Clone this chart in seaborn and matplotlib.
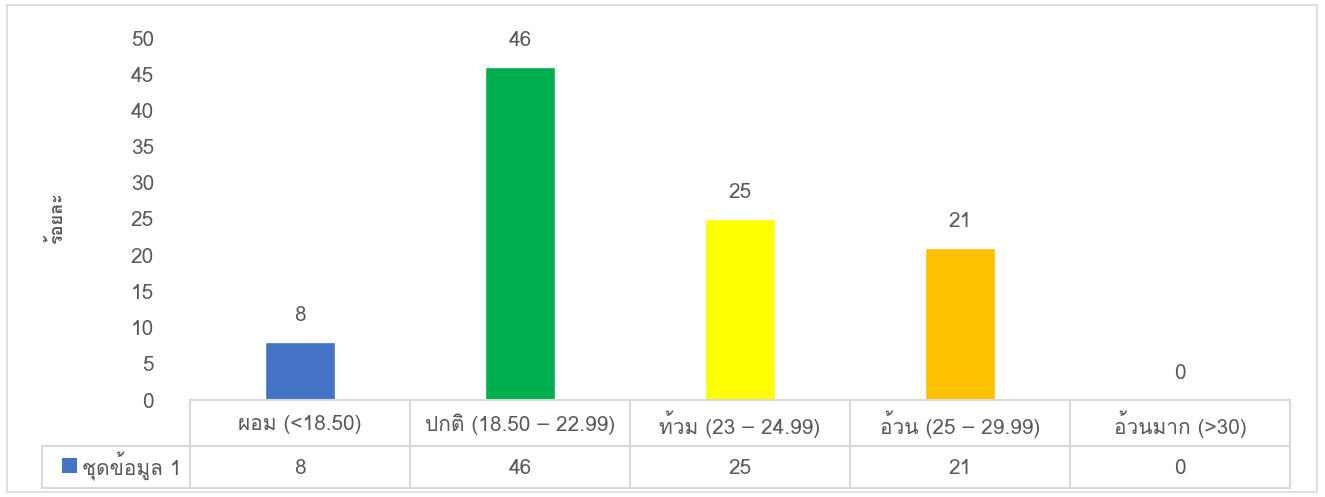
import matplotlib
matplotlib.use("Agg")
import matplotlib.pyplot as plt
from matplotlib.lines import Line2D
from matplotlib.patches import Rectangle
import seaborn as sns
import pandas as pd

categories = ["ผอม (<18.50)", "ปกติ (18.50 – 22.99)", "ท้วม (23 – 24.99)",
              "อ้วน (25 – 29.99)", "อ้วนมาก (>30)"]
values = [8, 46, 25, 21, 0]
series_name = "ชุดข้อมูล 1"
y_label = "ร้อยละ"
y_ticks = [0, 5, 10, 15, 20, 25, 30, 35, 40, 45, 50]
colors = ["#4472C4", "#00B050", "#FFFF00", "#FFC000", "#7F7F7F"]

sns.set_theme(style="white")
plt.rcParams["font.family"] = ["Loma", "DejaVu Sans"]

W, H = 1325, 497
fig = plt.figure(figsize=(W / 100, H / 100), dpi=100)
TXT = "#595959"

def fx(px):
    return px / W

def fy(py):
    return 1 - py / H

ax = fig.add_axes([fx(190), fy(400), fx(1290) - fx(190), fy(38) - fy(400)])
df = pd.DataFrame({"cat": categories, "val": values})
sns.barplot(data=df, x="cat", y="val", hue="cat", palette=colors[:len(categories)],
            width=0.32, legend=False, ax=ax, saturation=1)
ax.set_ylim(0, 50)
ax.set_xlim(-0.5, len(categories) - 0.5)
ax.set_yticks(y_ticks)
ax.tick_params(axis="y", labelsize=15, colors=TXT, length=0, pad=26)
ax.set_xticks([])
ax.set_xlabel("")
ax.set_ylabel("")
for s in ax.spines.values():
    s.set_visible(False)
for c in ax.containers:
    ax.bar_label(c, fontsize=15, color=TXT, padding=12)

fig.text(fx(57), fy(218), y_label, rotation=90, ha="center", va="center",
         fontsize=13, color=TXT, fontweight="bold")

# outer border
fig.add_artist(Rectangle((fx(7), fy(492)), fx(1317) - fx(7), fy(5) - fy(492),
                         transform=fig.transFigure, fill=False, edgecolor="#D9D9D9", lw=1.2))

# data table
LC = "#D9D9D9"
def hline(y, x0, x1):
    fig.add_artist(Line2D([fx(x0), fx(x1)], [fy(y), fy(y)], transform=fig.transFigure,
                          color=LC, lw=1.5))
def vline(x, y0, y1):
    fig.add_artist(Line2D([fx(x), fx(x)], [fy(y0), fy(y1)], transform=fig.transFigure,
                          color=LC, lw=1.5))

hline(400, 190, 1290)
hline(446, 42, 1290)
hline(488, 42, 1290)
vline(42, 446, 488)
for i in range(len(categories) + 1):
    vline(190 + 220 * i, 400, 488)
for i, (c, v) in enumerate(zip(categories, values)):
    xc = 300 + 220 * i
    fig.text(fx(xc), fy(424), c, ha="center", va="center", fontsize=15, color=TXT)
    fig.text(fx(xc), fy(468), str(v), ha="center", va="center", fontsize=15, color=TXT)
fig.add_artist(Rectangle((fx(62), fy(473)), fx(77) - fx(62), fy(458) - fy(473),
                         transform=fig.transFigure, facecolor=colors[0], edgecolor="none"))
fig.text(fx(82), fy(466), series_name, ha="left", va="center", fontsize=15, color=TXT)

fig.savefig("out.png", dpi=100)
